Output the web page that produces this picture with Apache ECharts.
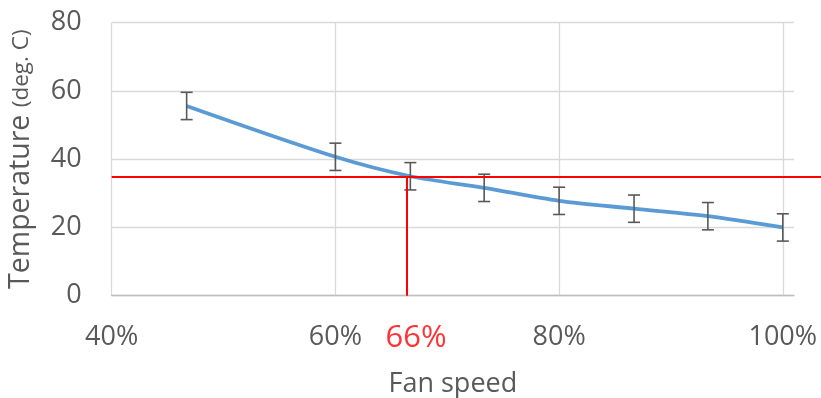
<!DOCTYPE html>
<html>
<head>
<meta charset="utf-8">
<style>
  html, body { margin: 0; padding: 0; background: #ffffff; }
  #chart { width: 821px; height: 398px; }
</style>
<script src="https://cdn.jsdelivr.net/npm/echarts@6/dist/echarts.min.js"></script>
</head>
<body>
<div id="chart"></div>
<script>
// Measured fan speed (fraction of full speed) and mean temperature, with ± spread
const fanSpeed = [0.467, 0.6, 0.667, 0.733, 0.8, 0.867, 0.933, 1.0];
const temperature = [55.6, 40.7, 35.0, 31.6, 27.8, 25.5, 23.3, 20.0];
const tempSpread = [4, 4, 4, 4, 4, 4, 4, 4];

// Target temperature and the fan speed where the curve reaches it
const targetTemp = 35;
const fanAtTarget = 0.664;

// Axis ranges and tick spacing
const xMin = 0.4, xMax = 1.01, xStep = 0.2;
const yMin = 0, yMax = 80, yStep = 20;

const FONT = '"Open Sans", "Noto Sans", sans-serif';
const GREY = '#595959';
const GRID_LINE = '#d9d9d9';
const RED = '#ff0000';

const pct = v => Math.round(v * 100) + '%';

const lineData = fanSpeed.map((x, i) => [x, temperature[i]]);
const barData = fanSpeed.map((x, i) => [x, temperature[i] - tempSpread[i], temperature[i] + tempSpread[i]]);

const chart = echarts.init(document.getElementById('chart'), null, { renderer: 'canvas' });

const plotBox = { left: 111.7, top: 22.7, bottom: 102.3 };

chart.setOption({
  animation: false,
  textStyle: { fontFamily: FONT },
  grid: [
    Object.assign({ right: 27, outerBoundsMode: 'none', containLabel: false }, plotBox),
    Object.assign({ right: 0, outerBoundsMode: 'none', containLabel: false }, plotBox)
  ],
  xAxis: [
    {
      type: 'value',
      gridIndex: 0,
      min: xMin, max: xMax, interval: xStep,
      name: 'Fan speed',
      nameLocation: 'middle',
      nameGap: 75,
      nameTextStyle: { color: GREY, fontSize: 27, fontFamily: FONT },
      axisLine: { show: true, lineStyle: { color: '#bfbfbf', width: 1.3 } },
      axisTick: { show: false },
      axisLabel: {
        color: GREY, fontSize: 27, fontFamily: FONT, margin: 28,
        formatter: v => (Math.abs(v / xStep - Math.round(v / xStep)) < 1e-6 ? pct(v) : '')
      },
      splitLine: { show: true, showMinLine: true, showMaxLine: false, lineStyle: { color: GRID_LINE, width: 1.3 } }
    },
    { type: 'value', gridIndex: 1, min: 0, max: 1, show: false }
  ],
  yAxis: [
    {
      type: 'value',
      gridIndex: 0,
      min: yMin, max: yMax, interval: yStep,
      name: '{a|Temperature }{b|(deg. C)}',
      nameLocation: 'middle',
      nameRotate: 90,
      nameGap: 76,
      nameTextStyle: {
        color: GREY,
        rich: {
          a: { fontSize: 28.5, color: GREY, fontFamily: FONT },
          b: { fontSize: 22.5, color: GREY, fontFamily: FONT }
        }
      },
      axisLine: { show: false },
      axisTick: { show: false },
      axisLabel: { color: GREY, fontSize: 27, fontFamily: FONT, margin: 30 },
      splitLine: { show: true, lineStyle: { color: GRID_LINE, width: 1.3 } }
    },
    { type: 'value', gridIndex: 1, min: yMin, max: yMax, show: false }
  ],
  series: [
    {
      name: 'Temperature',
      type: 'line',
      xAxisIndex: 0, yAxisIndex: 0,
      data: lineData,
      smooth: 0.3,
      symbol: 'none',
      lineStyle: { color: '#5b9bd5', width: 3.8 },
      z: 3
    },
    {
      name: 'Spread',
      type: 'custom',
      xAxisIndex: 0, yAxisIndex: 0,
      data: barData,
      z: 4,
      renderItem: (params, api) => {
        const top = api.coord([api.value(0), api.value(2)]);
        const bot = api.coord([api.value(0), api.value(1)]);
        const cap = 6;
        const style = { stroke: GREY, lineWidth: 1.6 };
        return {
          type: 'group',
          children: [
            { type: 'line', shape: { x1: top[0], y1: top[1], x2: bot[0], y2: bot[1] }, style },
            { type: 'line', shape: { x1: top[0] - cap, y1: top[1], x2: top[0] + cap, y2: top[1] }, style },
            { type: 'line', shape: { x1: bot[0] - cap, y1: bot[1], x2: bot[0] + cap, y2: bot[1] }, style }
          ]
        };
      }
    },
    {
      // Drop line from the target temperature down to the fan speed axis
      name: 'Target speed',
      type: 'line',
      xAxisIndex: 0, yAxisIndex: 0,
      data: [[fanAtTarget, yMin], [fanAtTarget, targetTemp]],
      symbol: 'none',
      lineStyle: { color: RED, width: 2 },
      z: 5
    },
    {
      // Speed readout under the axis
      name: 'Target label',
      type: 'scatter',
      xAxisIndex: 0, yAxisIndex: 0,
      data: [[fanAtTarget, yMin]],
      symbolSize: 0,
      label: {
        show: true,
        position: 'bottom',
        distance: 27,
        offset: [9, 0],
        formatter: p => pct(p.value[0]),
        color: RED,
        fontSize: 31,
        fontFamily: FONT
      },
      emphasis: { disabled: true },
      z: 6
    },
    {
      // Target temperature across the full width
      name: 'Target temperature',
      type: 'line',
      xAxisIndex: 1, yAxisIndex: 1,
      data: [],
      symbol: 'none',
      markLine: {
        silent: true,
        symbol: 'none',
        label: { show: false },
        lineStyle: { color: RED, width: 2, type: 'solid' },
        data: [{ yAxis: targetTemp }]
      },
      z: 5
    }
  ]
});
</script>
</body>
</html>
